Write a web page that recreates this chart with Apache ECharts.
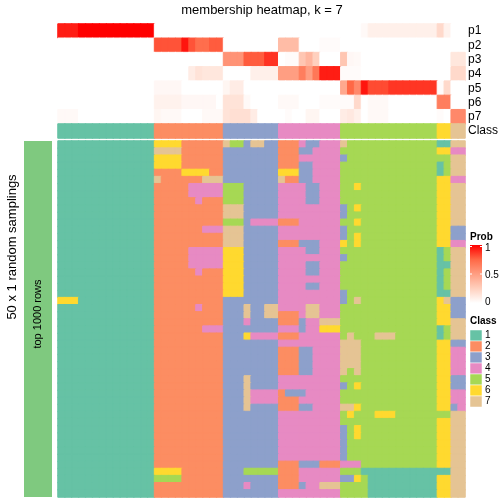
<!DOCTYPE html>
<html><head><meta charset="utf-8">
<script src="https://cdn.jsdelivr.net/npm/echarts@6/dist/echarts.min.js"></script>
<style>html,body{margin:0;padding:0;background:#fff}#c{width:504px;height:504px}</style>
</head><body><div id="c"></div>
<script>
const FONT = '"Liberation Sans", Arial, Helvetica, sans-serif';
const classColors = {1:'#66C2A5',2:'#FC8D62',3:'#8DA0CB',4:'#E78AC3',5:'#A6D854',6:'#FFD92F',7:'#E5C494'};
const classNames = ['1','2','3','4','5','6','7'];
const probNames = ['p1','p2','p3','p4','p5','p6','p7'];
const probTicks = ['1','0.5','0'];

const p1 = [0.93,0.93,0.93,1,1,1,1,1,1,1,1,1,1,1, 0,0,0,0,0,0,0,0,0,0, 0,0,0,0,0,0,0,0, 0,0,0,0,0,0,0,0,0, 0,0,0,0.03,0.08,0.08,0.08,0.08,0.08,0.08,0.08,0.08,0.08,0.08, 0.2,0.07, 0,0];
const p2 = [0,0,0,0,0,0,0,0,0,0,0,0,0,0, 0.8,0.8,0.8,0.8,0.95,0.8,0.72,0.72,0.78,0.78, 0,0,0,0,0,0,0,0, 0.35,0.35,0.35,0,0,0,0.02,0.02,0.02, 0,0,0,0,0,0,0,0,0,0,0,0,0,0, 0,0, 0,0];
const p3 = [0,0,0,0,0,0,0,0,0,0,0,0,0,0, 0,0,0,0,0,0,0,0,0,0, 0.55,0.55,0.55,0.78,0.78,0.78,0.88,0.88, 0,0.02,0.02,0.3,0.38,0.25,0,0,0, 0.3,0.04,0.03,0,0,0,0,0,0,0,0,0,0,0, 0,0, 0.13,0.13];
const p4 = [0,0,0,0,0,0,0,0,0,0,0,0,0,0, 0,0,0,0,0,0.1,0.15,0.13,0.13,0.13, 0,0,0,0,0.08,0.08,0.08,0.08, 0.5,0.5,0.5,0.65,0.5,0.68,0.93,0.93,0.93, 0.02,0.02,0.02,0,0,0,0,0,0,0,0,0,0,0, 0,0, 0.2,0.2];
const p5 = [0,0,0,0,0,0,0,0,0,0,0,0,0,0, 0.04,0.04,0.04,0.04,0,0,0,0,0,0, 0.05,0.1,0.1,0,0,0,0,0, 0,0,0,0,0,0,0,0,0, 0.45,0.75,0.6,0.95,0.82,0.82,0.82,0.87,0.87,0.87,0.87,0.87,0.87,0.87, 0.02,0.2, 0,0];
const p6 = [0,0,0,0,0,0,0,0,0,0,0,0,0,0, 0.07,0.07,0.07,0.07,0.04,0.04,0.04,0.04,0.04,0, 0.15,0.15,0.15,0.03,0,0,0,0, 0.03,0.03,0.03,0,0,0,0.02,0.02,0.02, 0.02,0.02,0.2,0,0.03,0.03,0.03,0,0,0,0,0,0,0, 0.65,0.65, 0,0];
const p7 = [0.03,0.03,0.03,0,0,0,0,0,0,0,0,0,0,0, 0.05,0.03,0.03,0.03,0,0,0,0.03,0.03,0.03, 0.15,0.17,0.17,0.17,0.1,0,0,0, 0,0.02,0,0,0.05,0.05,0,0,0, 0.1,0.12,0.08,0,0.03,0.03,0.03,0,0,0,0,0,0,0, 0.02,0, 0.6,0.6];

const classAnno = [1,1,1,1,1,1,1,1,1,1,1,1,1,1, 2,2,2,2,2,2,2,2,2,2, 3,3,3,3,3,3,3,3, 4,4,4,4,4,4,4,4,4, 5,5,5,5,5,5,5,5,5,5,5,5,5,5, 6,6, 7,7];

// 50 samplings x 59 columns, class id per cell
const samplingRows = [
"11111111111111 6666222222 75537733 222433444 75555555555555 11 77",
"11111111111111 7777222222 33333333 222334444 55555555555555 66 44",
"11111111111111 6666222222 33333333 222444444 35555555555555 55 77",
"11111111111111 6666222222 33333333 222334444 55555555555555 15 77",
"11111111111111 2222666622 33333333 666334444 55555555555555 15 77",
"11111111111111 7222222777 33333333 722334444 55555555555555 66 44",
"11111111111111 2222244444 55533333 444433444 55655555555555 66 77",
"11111111111111 2222244444 55533333 444433444 55555555555555 66 77",
"11111111111111 2222224222 55533333 444433444 55555555555555 66 77",
"11111111111111 2222222222 77733333 444444444 35655555555555 66 77",
"11111111111111 2222222222 77733333 444444444 35555555555555 66 77",
"11111111111111 2222222222 55534444 222444444 55655555555555 66 77",
"11111111111111 2222222444 77733333 444444444 35555555555555 66 33",
"11111111111111 2222222222 77733333 444444444 35655555555555 66 33",
"11111111111111 2222222222 77733333 222333444 65655555555555 66 44",
"11111111111111 2222244444 66633333 444433444 55555555555555 15 77",
"11111111111111 2222244444 66633333 444444444 35555555555555 15 77",
"11111111111111 2222244444 66633333 444433444 55555555555555 11 77",
"11111111111111 2222224222 66633333 444433444 55555555555555 15 77",
"11111111111111 2222222222 66633333 444444444 55555555555555 15 77",
"11111111111111 2222222222 66633333 444433444 55555555555555 15 77",
"11111111111111 2222222222 66633333 444444444 35555555555555 11 77",
"66611111111111 2222222222 33333333 444444444 35755555555555 67 33",
"11111111111111 2222224222 33373377 444477444 55555555555555 66 33",
"11111111111111 2222222222 33373377 222477444 55555555555555 66 33",
"11111111111111 2222222222 33343333 222344777 55555555555555 66 77",
"11111111111111 2222222444 33333333 444344666 55555555555555 15 77",
"11111111111111 2222222222 33364444 222444444 57555777555555 15 77",
"11111111111111 2222222222 33333333 444444444 77755555555555 66 33",
"11111111111111 2222222222 33333333 222334444 77755555555555 66 44",
"11111111111111 2222222222 33333333 222334444 77755555555555 66 44",
"11111111111111 2222222222 33333333 222334444 77755555555555 66 44",
"11111111111111 2222222222 33333333 222334444 75755555555555 66 44",
"11111111111111 2222222222 33373333 444444444 55555555555555 66 33",
"11111111111111 2222222222 33373333 444444444 35655555555555 66 33",
"11111111111111 2222222222 33374444 233344444 55555555555555 66 44",
"11111111111111 2222222222 33374444 222444444 55555555555555 66 44",
"11111111111111 2222222222 33373333 222334444 77655555555555 66 34",
"11111111111111 2222222222 33333333 444444444 56555666555555 55 77",
"11111111111111 2222222222 33333333 444444444 55555555555555 66 77",
"11111111111111 2222222222 33333333 444444444 35655555555555 66 77",
"11111111111111 2222222222 33333333 444444444 35655555555555 66 77",
"11111111111111 2222222222 33333333 444444444 35555555555555 66 77",
"11111111111111 2222222222 33333333 444444444 35555555555555 66 77",
"11111111111111 2222222222 33333333 444444444 35555555555555 66 77",
"11111111111111 2222222222 33333333 222333222 44455555555555 66 77",
"11111111111111 6666222222 33355555 222444444 55511111111111 11 77",
"11111111111111 5555222222 33333333 222444444 33651111111111 66 77",
"11111111111111 2222222222 33343333 222344777 55551111111111 66 77",
"11111111111111 2222222222 33333333 444444444 55551111111111 66 77"
];

// colour ramp for probability (white -> red)
const rampStops = ['#FFFFFF','#FFD0BE','#FF9E82','#FF6846','#FF0000'];
function hex2rgb(h){ return [parseInt(h.slice(1,3),16), parseInt(h.slice(3,5),16), parseInt(h.slice(5,7),16)]; }
function ramp(v){
  const t = Math.max(0, Math.min(1, v)) * (rampStops.length - 1);
  const i = Math.min(rampStops.length - 2, Math.floor(t));
  const f = t - i;
  const a = hex2rgb(rampStops[i]), b = hex2rgb(rampStops[i+1]);
  const c = a.map((x, k) => Math.round(x + (b[k] - x) * f));
  return 'rgb(' + c.join(',') + ')';
}
function cell(x, y, v, color){ return {value:[x, y, v], itemStyle:{color:color, borderColor:color, borderWidth:1}}; }

const xCats = classAnno.map((_, i) => String(i));
const probArrays = [p1,p2,p3,p4,p5,p6,p7];

const probData = [];
probArrays.forEach((arr, r) => arr.forEach((v, c) => probData.push(cell(c, r, v, ramp(v)))));
const annoData = classAnno.map((v, c) => cell(c, 0, v, classColors[v]));
const mainData = [];
samplingRows.forEach((s, r) => {
  const cells = s.replace(/ /g, '');
  for (let c = 0; c < cells.length; c++) mainData.push(cell(c, r, +cells[c], classColors[+cells[c]]));
});
const rowCats = samplingRows.map((_, i) => String(i));

const L = 58, W = 407;
const hiddenX = (gi) => ({type:'category', gridIndex:gi, data:xCats, show:false});

const graphics = [];
// left annotation bar
graphics.push({type:'rect', shape:{x:24, y:141, width:28, height:356}, style:{fill:'#7FC97F'}});
graphics.push({type:'text', x:38, y:314, rotation:Math.PI/2, style:{text:'top 1000 rows', font:'11px '+FONT, fill:'#000', textAlign:'center', textVerticalAlign:'middle'}});
graphics.push({type:'text', x:12, y:247, rotation:Math.PI/2, style:{text:'50 x 1 random samplings', font:'13px '+FONT, fill:'#000', textAlign:'center', textVerticalAlign:'middle'}});
// title
graphics.push({type:'text', x:262, y:10, style:{text:'membership heatmap, k = 7', font:'13px '+FONT, fill:'#000', textAlign:'center', textVerticalAlign:'middle'}});
// Prob legend
graphics.push({type:'text', x:470, y:237, style:{text:'Prob', font:'bold 10px '+FONT, fill:'#000', textAlign:'left', textVerticalAlign:'middle'}});
graphics.push({type:'rect', shape:{x:470, y:245, width:12, height:58}, style:{fill:new echarts.graphic.LinearGradient(0,0,0,1,[
  {offset:0,color:'#FF0000'},{offset:0.25,color:'#FF6846'},{offset:0.5,color:'#FF9E82'},{offset:0.75,color:'#FFD0BE'},{offset:1,color:'#FFFFFF'}])}});
const tickY = [248, 275, 302];
probTicks.forEach((t, i) => {
  graphics.push({type:'text', x:485, y:tickY[i], style:{text:t, font:'10px '+FONT, fill:'#000', textAlign:'left', textVerticalAlign:'middle'}});
});
[246.5, 274].forEach(y => {
  graphics.push({type:'line', shape:{x1:470,y1:y,x2:472,y2:y}, style:{stroke:'#fff', lineWidth:1}});
  graphics.push({type:'line', shape:{x1:480,y1:y,x2:482,y2:y}, style:{stroke:'#fff', lineWidth:1}});
});
// Class legend
graphics.push({type:'text', x:470, y:321, style:{text:'Class', font:'bold 10px '+FONT, fill:'#000', textAlign:'left', textVerticalAlign:'middle'}});
classNames.forEach((n, i) => {
  const y = 330 + i * 11;
  graphics.push({type:'rect', shape:{x:470, y:y, width:12, height:11}, style:{fill:classColors[+n], stroke:'#fff', lineWidth:0.5}});
  graphics.push({type:'text', x:485, y:y + 5.5, style:{text:n, font:'10px '+FONT, fill:'#000', textAlign:'left', textVerticalAlign:'middle'}});
});

const option = {
  animation:false,
  backgroundColor:'#fff',
  grid:[
    {left:L, top:24, width:W, height:100},
    {left:L, top:124, width:W, height:14},
    {left:L, top:141, width:W, height:356}
  ],
  xAxis:[hiddenX(0), hiddenX(1), hiddenX(2)],
  yAxis:[
    {type:'category', gridIndex:0, data:probNames, inverse:true, position:'right',
      axisLine:{show:false}, axisTick:{show:false}, axisLabel:{interval:0, margin:3, fontSize:12, color:'#000', fontFamily:FONT}},
    {type:'category', gridIndex:1, data:['Class'], position:'right',
      axisLine:{show:false}, axisTick:{show:false}, axisLabel:{interval:0, margin:3, fontSize:12, color:'#000', fontFamily:FONT}},
    {type:'category', gridIndex:2, data:rowCats, inverse:true, show:false}
  ],
  series:[
    {type:'heatmap', xAxisIndex:0, yAxisIndex:0, data:probData},
    {type:'heatmap', xAxisIndex:1, yAxisIndex:1, data:annoData},
    {type:'heatmap', xAxisIndex:2, yAxisIndex:2, data:mainData}
  ],
  graphic:graphics
};
const chart = echarts.init(document.getElementById('c'), null, {renderer:'canvas'});
chart.setOption(option);
</script>
</body></html>
